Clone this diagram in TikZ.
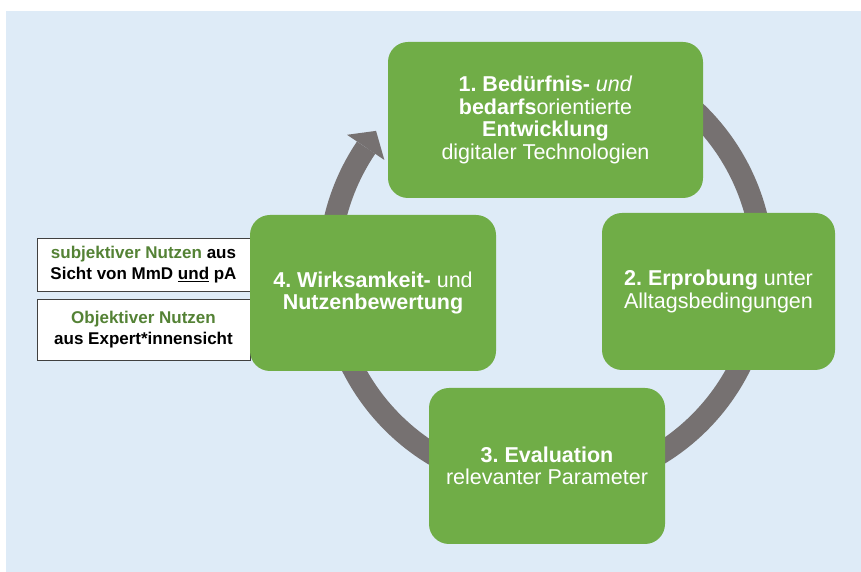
\documentclass[tikz,border=0pt]{standalone}
\usepackage{fontspec}
\setmainfont{Liberation Sans}
\definecolor{bg}{HTML}{DEEBF7}
\definecolor{grn}{HTML}{70AD47}
\definecolor{dgrn}{HTML}{548235}
\definecolor{ringc}{HTML}{767171}
\begin{document}
\frenchspacing
\begin{tikzpicture}[x=1pt,y=1pt,
  stage/.style={fill=grn, rounded corners=20pt, draw=none, text=white, align=center,
    font=\frenchspacing\fontsize{21.5}{22.5}\selectfont, inner sep=0pt},
  side/.style={fill=white, draw=black!75, line width=0.8pt, align=center,
    font=\frenchspacing\bfseries\fontsize{17}{21}\selectfont, inner sep=0pt},
  ringline/.style={draw=ringc, line width=22pt}]
\useasboundingbox (0,0) rectangle (861,572);
\fill[white] (0,0) rectangle (861,572);
\fill[bg] (6,0) rectangle (861,561);
\coordinate (c) at (546,303);
% cycle ring with arrow
\draw[ringline] ([shift={(70:217)}]c) arc[start angle=70, end angle=-214, radius=217];
\fill[ringc] ([shift={(146:195)}]c) -- ([shift={(140.9:219)}]c) -- ([shift={(146:240)}]c) -- cycle;
% side boxes
\node[side, minimum width=213pt, minimum height=53pt] (sa) at (143.5,307.5)
  {\textcolor{dgrn}{subjektiver Nutzen} aus\\Sicht von MmD \underline{und} pA};
\node[side, minimum width=213pt, minimum height=61pt] (sb) at (143.5,242.5)
  {\textcolor{dgrn}{Objektiver Nutzen}\\aus Expert*innensicht};
% stages
\node[stage, minimum width=315pt, minimum height=156pt] (b1) at (545.5,452)
  {{\bfseries 1. Bedürfnis-} \textit{und}\\{\bfseries bedarfs}orientierte\\{\bfseries Entwicklung}\\digitaler Technologien};
\node[stage, minimum width=233pt, minimum height=157pt] (b2) at (718.5,280.5)
  {{\bfseries 2. Erprobung} unter\\Alltagsbedingungen};
\node[stage, minimum width=236pt, minimum height=156pt] (b3) at (547,106)
  {{\bfseries 3. Evaluation}\\relevanter Parameter};
\node[stage, minimum width=246pt, minimum height=156pt] (b4) at (373,279)
  {{\bfseries 4. Wirksamkeit-} und\\{\bfseries Nutzenbewertung}};
\end{tikzpicture}
\end{document}
